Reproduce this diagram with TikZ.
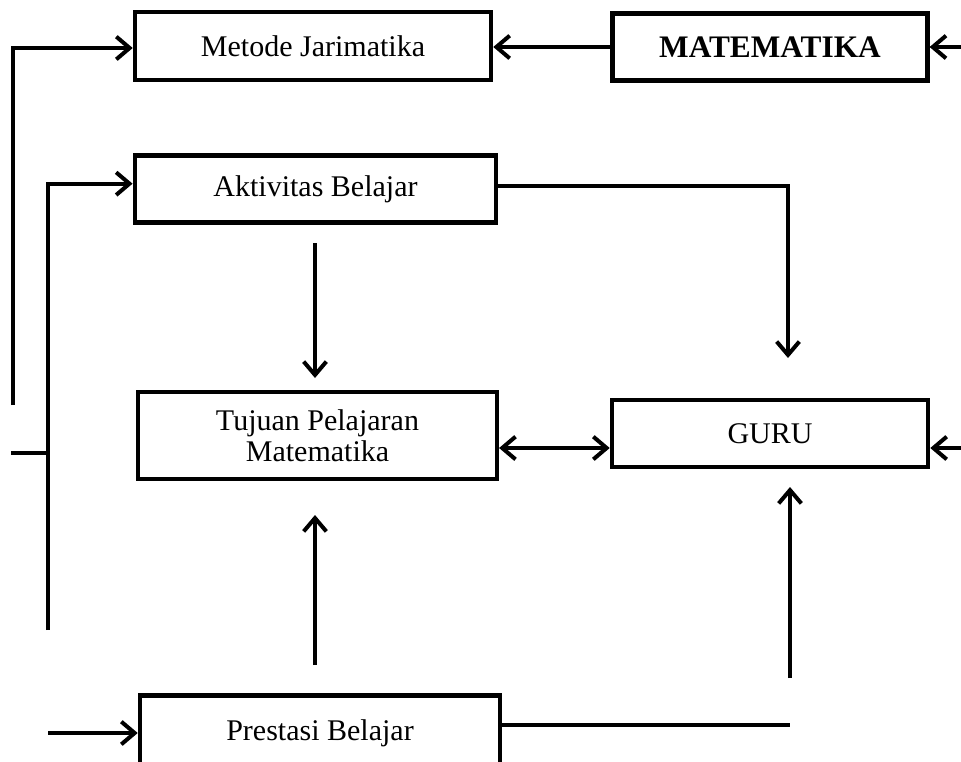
\documentclass[tikz,border=0pt]{standalone}
\usepackage{fontspec}
\setmainfont{Liberation Serif}
\usetikzlibrary{arrows.meta}
\begin{document}
\begin{tikzpicture}[x=0.75pt,y=-0.75pt,
  box/.style={draw,line width=3.4pt,inner sep=0pt,align=center,font=\fontsize{22.5}{23}\selectfont},
  wire/.style={line width=3pt},
  tip/.style={Straight Barb[length=10pt,width=17pt]},
  conn/.style={wire,-{Straight Barb[length=10pt,width=17pt]}},
  both/.style={wire,{Straight Barb[length=10pt,width=17pt]}-{Straight Barb[length=10pt,width=17pt]}}]
\useasboundingbox (0,0) rectangle (961,761);
% boxes
\node[box,minimum width=267pt,minimum height=51pt] (jar) at (313,46) {Metode Jarimatika};
\node[box,minimum width=236pt,minimum height=50pt,font=\fontsize{23.5}{25}\selectfont\bfseries] (mat) at (770,47) {MATEMATIKA};
\node[box,minimum width=271pt,minimum height=50pt] (akt) at (315.5,189) {Aktivitas Belajar};
\node[box,minimum width=269pt,minimum height=65pt] (tuj) at (317.5,435.5) {Tujuan Pelajaran\\Matematika};
\node[box,minimum width=237pt,minimum height=50pt] (guru) at (770,433.5) {GURU};
\node[box,minimum width=270pt,minimum height=56pt] (pre) at (320,733) {Prestasi Belajar};
% free ends
\coordinate (a1) at (13,405);
\coordinate (b1) at (48,630);
\coordinate (c1) at (11,453);
\coordinate (c2) at (48,453);
\coordinate (d1) at (48,733);
\coordinate (f1) at (961,47);
\coordinate (g1) at (788,358);
\coordinate (h1) at (315,243);
\coordinate (h2) at (315,378);
\coordinate (ylev) at (0,448);
\coordinate (j1) at (961,448);
\coordinate (k1) at (315,665);
\coordinate (k2) at (315,515);
\coordinate (l1) at (790,678);
\coordinate (l2) at (790,487);
\coordinate (m1) at (790,725);
% connectors
\draw[conn] (a1) |- ([yshift=-1.5pt]jar.west);
\draw[conn] (b1) |- ([yshift=4pt]akt.west);
\draw[wire] (c1) -- (c2);
\draw[conn] (d1) -- (pre.west);
\draw[conn] (mat.west) -- (mat.west -| jar.east);
\draw[conn] (f1) -- (mat.east);
\draw[conn] ([yshift=2pt]akt.east) -| (g1);
\draw[conn] (h1) -- (h2);
\draw[both] (ylev -| tuj.east) -- (ylev -| guru.west);
\draw[conn] (j1) -- (j1 -| guru.east);
\draw[conn] (k1) -- (k2);
\draw[conn] (l1) -- (l2);
\draw[wire] (m1 -| pre.east) -- (m1);
\end{tikzpicture}
\end{document}
